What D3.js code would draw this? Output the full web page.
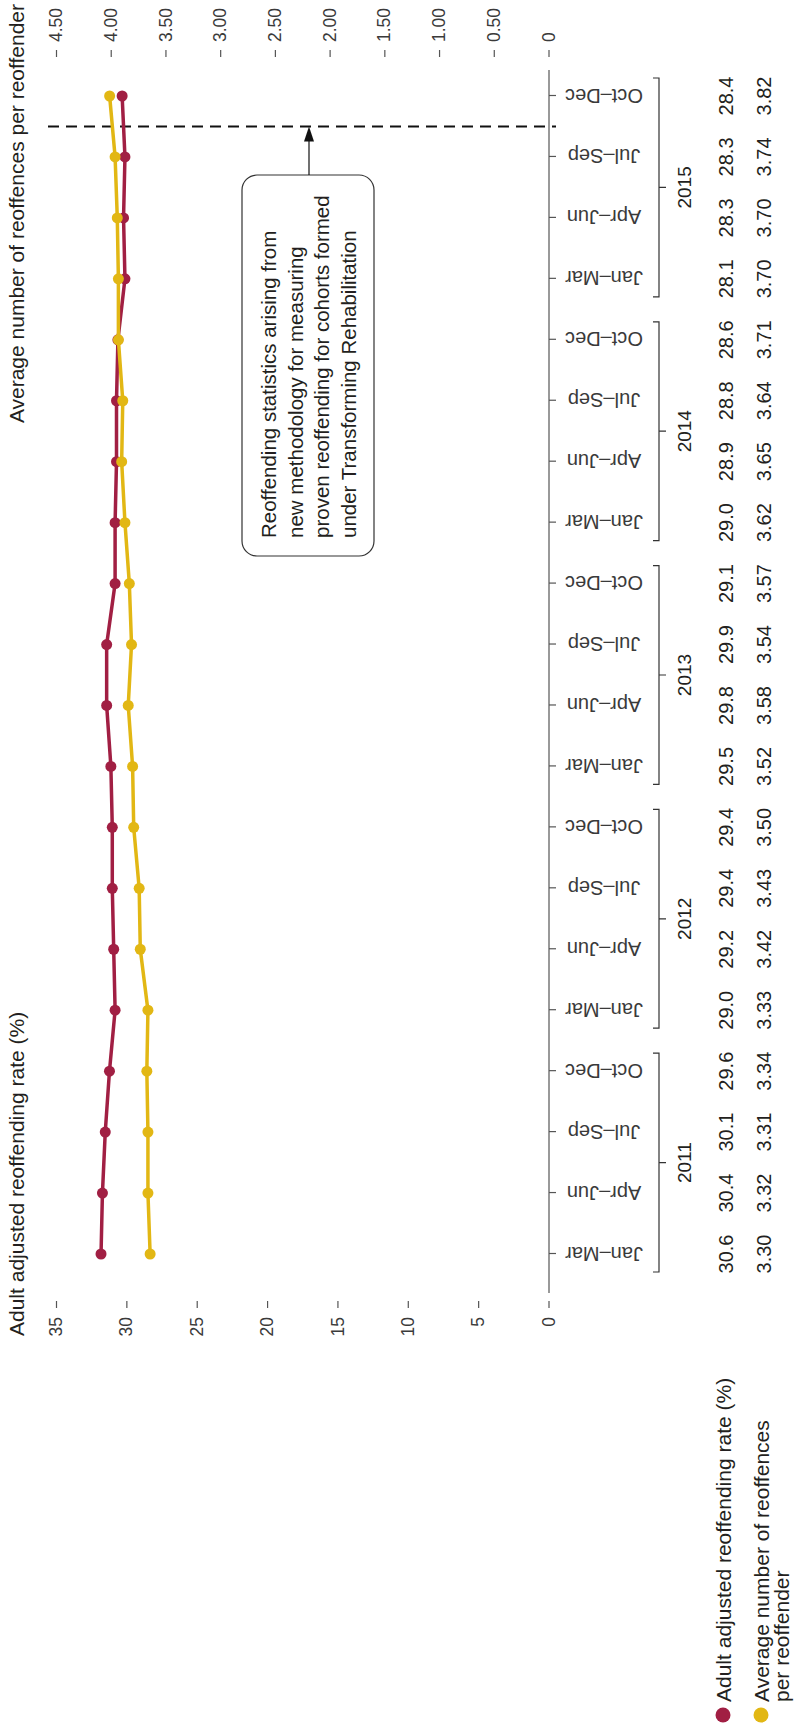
<!DOCTYPE html>
<html>
<head>
<meta charset="utf-8">
<title>Adult reoffending rate and reoffences per reoffender</title>
<script src="https://d3js.org/d3.v7.min.js"></script>
<style>
  body { margin: 0; background: #fff; }
  svg { display: block; font-family: "Liberation Sans", Arial, Helvetica, sans-serif; }
  text { fill: #231f20; }
  .axis text { font-size: 17.5px; fill: #3a3a3a; }
  .axis line, .axis path { stroke: #555; stroke-width: 1.2px; }
</style>
</head>
<body>
<div id="chart"></div>
<script>
// ---- data ----
const years = ["2011", "2012", "2013", "2014", "2015"];
const quarterNames = ["Jan–Mar", "Apr–Jun", "Jul–Sep", "Oct–Dec"];

// values printed in the table under the chart
const rateLabels = ["30.6", "30.4", "30.1", "29.6", "29.0", "29.2", "29.4", "29.4", "29.5", "29.8",
                    "29.9", "29.1", "29.0", "28.9", "28.8", "28.6", "28.1", "28.3", "28.3", "28.4"];
const avgLabels = ["3.30", "3.32", "3.31", "3.34", "3.33", "3.42", "3.43", "3.50", "3.52", "3.58",
                   "3.54", "3.57", "3.62", "3.65", "3.64", "3.71", "3.70", "3.70", "3.74", "3.82"];

// values as plotted by the lines
const ratePlotted = [31.8, 31.7, 31.5, 31.2, 30.8, 30.9, 31.0, 31.0, 31.1, 31.4,
                     31.4, 30.8, 30.8, 30.7, 30.7, 30.6, 30.1, 30.2, 30.1, 30.3];
const avgPlotted = [3.64, 3.66, 3.66, 3.67, 3.66, 3.73, 3.74, 3.79, 3.80, 3.84,
                    3.81, 3.83, 3.87, 3.90, 3.89, 3.93, 3.93, 3.94, 3.96, 4.01];

const rateTicks = [0, 5, 10, 15, 20, 25, 30, 35];
const avgTicks = [0, 0.5, 1, 1.5, 2, 2.5, 3, 3.5, 4, 4.5];

const rateTitle = "Adult adjusted reoffending rate (%)";
const avgTitle = "Average number of reoffences per reoffender";
const noteLines = ["Reoffending statistics arising from", "new methodology for measuring",
                   "proven reoffending for cohorts formed", "under Transforming Rehabilitation"];

const red = "#a11f43", yellow = "#e2b714";

// ---- layout ----
// the chart is drawn landscape and then turned a quarter turn anticlockwise
const pageW = 795, pageH = 1727;

const svg = d3.select("#chart").append("svg")
    .attr("width", pageW)
    .attr("height", pageH);

const g = svg.append("g")
    .attr("transform", `translate(0,${pageH}) rotate(-90)`);

const keys = years.flatMap(y => quarterNames.map(q => y + "|" + q));

const x = d3.scalePoint().domain(keys).range([473, 1631]);
const yRate = d3.scaleLinear().domain([0, 35]).range([548.5, 56]);
const yAvg = d3.scaleLinear().domain([0, 4.5]).range([548.5, 56]);

// left axis (rate)
g.append("g")
    .attr("class", "axis")
    .attr("transform", "translate(426,0)")
    .call(d3.axisLeft(yRate).tickValues(rateTicks).tickSize(7).tickPadding(9).tickFormat(d3.format("d")))
    .call(a => a.select(".domain").remove());

// right axis (reoffences)
g.append("g")
    .attr("class", "axis")
    .attr("transform", "translate(1670,0)")
    .call(d3.axisRight(yAvg).tickValues(avgTicks).tickSize(7).tickPadding(8)
        .tickFormat(d => d === 0 ? "0" : d3.format(".2f")(d)))
    .call(a => a.select(".domain").remove());

// bottom axis (quarters)
const xAxis = g.append("g")
    .attr("class", "axis")
    .attr("transform", "translate(0,549)")
    .call(d3.axisBottom(x).tickSize(7).tickFormat(d => d.split("|")[1]));
xAxis.select(".domain").remove();
xAxis.selectAll(".tick text")
    .attr("y", 0)
    .attr("dy", "0.35em")
    .attr("transform", "translate(0,55) rotate(-90)")
    .attr("text-anchor", "middle")
    .style("font-size", "20px");
xAxis.append("line")
    .attr("x1", 434).attr("x2", 1657)
    .attr("y1", 0).attr("y2", 0);

// axis titles
g.append("text")
    .attr("x", 391).attr("y", 24)
    .style("font-size", "21px")
    .text(rateTitle);
g.append("text")
    .attr("x", 1723).attr("y", 24)
    .attr("text-anchor", "end")
    .style("font-size", "21px")
    .text(avgTitle);

// year brackets
years.forEach(yr => {
    const x0 = x(yr + "|" + quarterNames[0]) - 18;
    const x1 = x(yr + "|" + quarterNames[3]) + 18;
    const mid = (x0 + x1) / 2;
    g.append("path")
        .attr("d", `M${x0},653V659H${x1}V653M${mid},659V666`)
        .attr("fill", "none")
        .attr("stroke", "#333")
        .attr("stroke-width", 1.2);
    g.append("text")
        .attr("x", mid).attr("y", 691)
        .attr("text-anchor", "middle")
        .style("font-size", "19px")
        .text(yr);
});

// table of values
g.append("g").selectAll("text")
    .data(rateLabels)
    .join("text")
    .attr("x", (d, i) => x(keys[i]))
    .attr("y", 733)
    .attr("text-anchor", "middle")
    .style("font-size", "20px")
    .text(d => d);
g.append("g").selectAll("text")
    .data(avgLabels)
    .join("text")
    .attr("x", (d, i) => x(keys[i]))
    .attr("y", 771)
    .attr("text-anchor", "middle")
    .style("font-size", "20px")
    .text(d => d);

// methodology break
const breakX = (x(keys[18]) + x(keys[19])) / 2;
g.append("line")
    .attr("x1", breakX).attr("x2", breakX)
    .attr("y1", 48).attr("y2", 556)
    .attr("stroke", "#111")
    .attr("stroke-width", 2)
    .attr("stroke-dasharray", "11,7");

// note box and arrow
g.append("rect")
    .attr("x", 1171).attr("y", 242)
    .attr("width", 381).attr("height", 132)
    .attr("rx", 15)
    .attr("fill", "#fff")
    .attr("stroke", "#333")
    .attr("stroke-width", 1.2);
g.append("text")
    .style("font-size", "20.5px")
    .selectAll("tspan")
    .data(noteLines)
    .join("tspan")
    .attr("x", 1189)
    .attr("y", (d, i) => 276 + i * 26.5)
    .text(d => d);
g.append("line")
    .attr("x1", 1552).attr("x2", breakX - 14)
    .attr("y1", 309).attr("y2", 309)
    .attr("stroke", "#111")
    .attr("stroke-width", 1.2);
g.append("path")
    .attr("d", `M${breakX},309L${breakX - 15},304L${breakX - 15},314Z`)
    .attr("fill", "#111");

// series
const series = [
    { values: ratePlotted, scale: yRate, color: red },
    { values: avgPlotted, scale: yAvg, color: yellow }
];
series.forEach(s => {
    const line = d3.line()
        .x((d, i) => x(keys[i]))
        .y(d => s.scale(d));
    g.append("path")
        .datum(s.values)
        .attr("d", line)
        .attr("fill", "none")
        .attr("stroke", s.color)
        .attr("stroke-width", 3.5)
        .attr("stroke-linejoin", "round");
    g.append("g").selectAll("circle")
        .data(s.values)
        .join("circle")
        .attr("cx", (d, i) => x(keys[i]))
        .attr("cy", d => s.scale(d))
        .attr("r", 5.5)
        .attr("fill", s.color);
});

// legend
const legend = [
    { lines: [rateTitle], color: red, y: 723 },
    { lines: ["Average number of reoffences", "per reoffender"], color: yellow, y: 761 }
];
legend.forEach(l => {
    g.append("circle")
        .attr("cx", 12).attr("cy", l.y)
        .attr("r", 7.5)
        .attr("fill", l.color);
    g.append("text")
        .style("font-size", "21px")
        .selectAll("tspan")
        .data(l.lines)
        .join("tspan")
        .attr("x", 25)
        .attr("y", (d, i) => l.y + 8 + i * 20)
        .text(d => d);
});
</script>
</body>
</html>
